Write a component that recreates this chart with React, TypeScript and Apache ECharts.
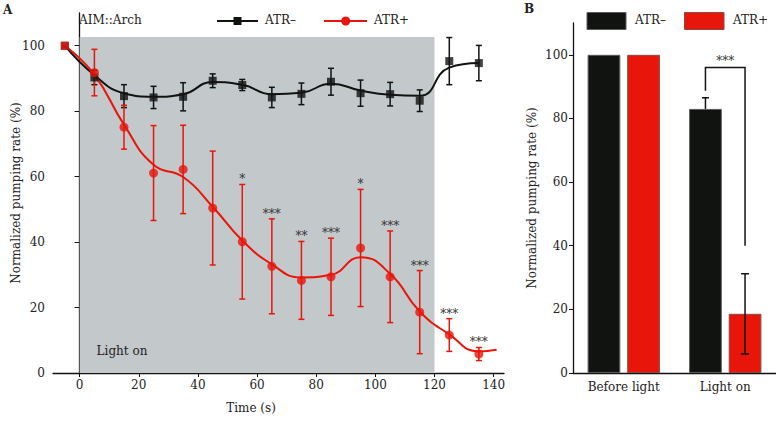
import React, { useEffect, useRef } from 'react';
import * as echarts from 'echarts';

const FONT = '"DejaVu Serif", serif';

// Panel A data
const times = [-5, 5, 15, 25, 35, 45, 55, 65, 75, 85, 95, 105, 115, 125, 135];
const atrMinus = [100, 90.3, 84.6, 84.2, 84.4, 89.3, 88.0, 84.2, 85.3, 89.0, 85.5, 85.2, 83.2, 95.3, 94.7];
const atrMinusErr = [0, 2.2, 3.5, 3.4, 4.3, 2.1, 1.7, 3.1, 3.3, 4.1, 4.0, 3.6, 3.3, 7.2, 5.4];
const atrPlus = [100, 91.8, 75.1, 61.1, 62.2, 50.4, 40.1, 32.6, 28.3, 29.4, 38.2, 29.4, 18.6, 11.6, 5.8];
const atrPlusErr = [0, 7.1, 6.7, 14.5, 13.5, 17.4, 17.5, 14.5, 11.9, 11.8, 17.9, 14.0, 12.7, 5.0, 2.0];
const significance = ['', '', '', '', '', '', '*', '***', '**', '***', '*', '***', '***', '***', '***'];

// Fitted (smoothed) curves
const fitMinusTimes = [-5, 5, 15, 25, 35, 45, 55, 65, 75, 85, 95, 105, 115, 125, 135];
const fitMinus = [100, 91, 85.5, 84.4, 85.2, 88.9, 88.1, 85.2, 85.6, 88.4, 86.3, 85.0, 84.7, 93.3, 94.7];
const fitPlusTimes = [-5, 5, 15, 25, 35, 45, 55, 65, 75, 85, 95, 105, 115, 125, 135, 141];
const fitPlus = [100, 91.1, 75.9, 63.6, 59.9, 50.8, 40.5, 33.2, 29.2, 30.0, 35.4, 30.3, 18.8, 11.8, 6.6, 7.1];

const lightPeriod = [0, 120];
const lightTop = 102.7;

const xTicksA = [0, 20, 40, 60, 80, 100, 120, 140];
const yTicks = [0, 20, 40, 60, 80, 100];

// Panel B data
const categories = ['Before light', 'Light on'];
const barMinus = [100, 83.0];
const barPlus = [100, 18.6];
const barMinusErr = [0, 3.5];
const barPlusErr = [0, 12.6];
const bracket = { left: 88.7, top: 96, right: 40, label: '***' };

const BLACK = '#111311';
const RED = '#e8150b';
const BAR_W = 32.7;
const BAR_GAP_PX = 6.9;

export default function App() {
  const ref = useRef<HTMLDivElement>(null);

  useEffect(() => {
    const chart = echarts.init(ref.current!, null, { renderer: 'svg' });

    const errRender = (color: string) => (params: any, api: any) => {
      const x = api.value(0);
      const y = api.value(1);
      const e = api.value(2);
      const lo = api.coord([x, y - e]);
      const hi = api.coord([x, y + e]);
      const cw = 3;
      const st = { stroke: color, lineWidth: 1.5 };
      return {
        type: 'group',
        children: [
          { type: 'line', shape: { x1: lo[0], y1: lo[1], x2: hi[0], y2: hi[1] }, style: st },
          { type: 'line', shape: { x1: lo[0] - cw, y1: lo[1], x2: lo[0] + cw, y2: lo[1] }, style: st },
          { type: 'line', shape: { x1: hi[0] - cw, y1: hi[1], x2: hi[0] + cw, y2: hi[1] }, style: st },
        ],
      };
    };

    const starRender = (params: any, api: any) => {
      const x = api.value(0);
      const top = api.value(1) + api.value(2);
      const p = api.coord([x, top]);
      const txt = significance[api.value(3)];
      return {
        type: 'text',
        x: p[0],
        y: p[1] + 1,
        style: {
          text: txt,
          fill: '#333',
          font: `12px ${FONT}`,
          align: 'center',
          verticalAlign: 'bottom',
        },
      };
    };

    const minusErrData = times
      .map((t, i) => [t, atrMinus[i], atrMinusErr[i]])
      .filter((d) => d[2] > 0);
    const plusErrData = times
      .map((t, i) => [t, atrPlus[i], atrPlusErr[i]])
      .filter((d) => d[2] > 0);
    const starData = times
      .map((t, i) => [t, atrPlus[i], atrPlusErr[i], i])
      .filter((d) => significance[d[3]] !== '');

    const off = (BAR_W + BAR_GAP_PX) / 2;

    const barErrRender = (params: any, api: any) => {
      const idx = api.value(0);
      const v = api.value(1);
      const up = api.value(2);
      const down = api.value(3);
      const side = api.value(4);
      const c = api.coord([idx, v]);
      const hi = api.coord([idx, v + up]);
      const lo = api.coord([idx, v - down]);
      const x = c[0] + side * off;
      const cw = side < 0 ? 3.5 : 4;
      const st = { stroke: BLACK, lineWidth: 1.5 };
      const children: any[] = [
        { type: 'line', shape: { x1: x, y1: lo[1], x2: x, y2: hi[1] }, style: st },
        { type: 'line', shape: { x1: x - cw, y1: hi[1], x2: x + cw, y2: hi[1] }, style: st },
      ];
      if (down > 0) {
        children.push({ type: 'line', shape: { x1: x - cw, y1: lo[1], x2: x + cw, y2: lo[1] }, style: st });
      }
      return { type: 'group', children };
    };

    const bracketRender = (params: any, api: any) => {
      const idx = api.value(0);
      const pL = api.coord([idx, api.value(1)]);
      const pT = api.coord([idx, api.value(2)]);
      const pR = api.coord([idx, api.value(3)]);
      const xl = pL[0] - off;
      const xr = pL[0] + off;
      return {
        type: 'group',
        children: [
          {
            type: 'polyline',
            shape: { points: [[xl, pL[1]], [xl, pT[1]], [xr, pT[1]], [xr, pR[1]]] },
            style: { stroke: BLACK, lineWidth: 1.5, fill: 'none' },
          },
          {
            type: 'text',
            x: (xl + xr) / 2,
            y: pT[1] - 1,
            style: { text: bracket.label, fill: '#333', font: `12px ${FONT}`, align: 'center', verticalAlign: 'bottom' },
          },
        ],
      };
    };

    const axisLineStyle = { color: '#111', width: 1.3 };
    const labelStyle = { fontFamily: FONT, fontSize: 12, color: '#222' };

    const gtext = (text: string, x: number, y: number, opts: any = {}) => ({
      type: 'text',
      x,
      y,
      z: 100,
      style: {
        text,
        fill: opts.fill || '#222',
        font: opts.font || `12px ${FONT}`,
        align: opts.align || 'left',
        verticalAlign: 'middle',
        textAlign: opts.align || 'left',
        textVerticalAlign: 'middle',
      },
    });

    const option: any = {
      animation: false,
      textStyle: { fontFamily: FONT },
      grid: [
        { left: 53, top: 13, width: 451, height: 360, containLabel: false, outerBoundsMode: 'none' },
        { left: 573, top: 23, width: 203, height: 350, containLabel: false, outerBoundsMode: 'none' },
      ],
      xAxis: [
        {
          type: 'value',
          gridIndex: 0,
          min: -9,
          max: 143.5,
          axisLine: { show: true, lineStyle: axisLineStyle },
          axisTick: { show: true, length: 4, customValues: xTicksA, lineStyle: { color: '#111' } },
          axisLabel: { customValues: xTicksA, margin: 6, ...labelStyle },
          splitLine: { show: false },
        },
        {
          type: 'category',
          gridIndex: 1,
          data: categories,
          axisLine: { show: true, lineStyle: axisLineStyle },
          axisTick: { show: false },
          axisLabel: { margin: 8, ...labelStyle },
        },
      ],
      yAxis: [
        {
          type: 'value',
          gridIndex: 0,
          min: 0,
          max: 110,
          name: 'Normalized pumping rate (%)',
          nameLocation: 'middle',
          nameGap: 31,
          nameMoveOverlap: false,
          nameTextStyle: { ...labelStyle },
          axisLine: { show: true, lineStyle: axisLineStyle },
          axisTick: { show: true, length: 5, customValues: yTicks, lineStyle: { color: '#111' } },
          axisLabel: { customValues: yTicks, margin: 8, ...labelStyle },
          splitLine: { show: false },
        },
        {
          type: 'value',
          gridIndex: 1,
          min: 0,
          max: 110,
          name: 'Normalized pumping rate (%)',
          nameLocation: 'middle',
          nameGap: 35,
          nameMoveOverlap: false,
          nameTextStyle: { ...labelStyle },
          axisLine: { show: true, lineStyle: axisLineStyle },
          axisTick: { show: true, length: 4, customValues: yTicks, lineStyle: { color: '#111' } },
          axisLabel: { customValues: yTicks, margin: 5, ...labelStyle },
          splitLine: { show: false },
        },
      ],
      series: [
        {
          type: 'line',
          name: 'light',
          xAxisIndex: 0,
          yAxisIndex: 0,
          data: [],
          z: 1,
          markArea: {
            silent: true,
            itemStyle: { color: '#c3c8cb' },
            label: {
              show: true,
              position: 'insideBottomLeft',
              formatter: 'Light on',
              offset: [12, -11],
              fontFamily: FONT,
              fontSize: 12,
              color: '#222',
            },
            data: [[{ xAxis: lightPeriod[0], yAxis: 0 }, { xAxis: lightPeriod[1], yAxis: lightTop }]],
          },
        },
        {
          type: 'line',
          name: 'ATR– fit',
          xAxisIndex: 0,
          yAxisIndex: 0,
          data: fitMinusTimes.map((t, i) => [t, fitMinus[i]]),
          smooth: 0.5,
          showSymbol: false,
          lineStyle: { color: BLACK, width: 2 },
          z: 2,
        },
        {
          type: 'line',
          name: 'ATR+ fit',
          xAxisIndex: 0,
          yAxisIndex: 0,
          data: fitPlusTimes.map((t, i) => [t, fitPlus[i]]),
          smooth: 0.5,
          showSymbol: false,
          lineStyle: { color: RED, width: 2 },
          z: 2,
        },
        {
          type: 'custom',
          xAxisIndex: 0,
          yAxisIndex: 0,
          data: minusErrData,
          renderItem: errRender(BLACK),
          z: 3,
        },
        {
          type: 'custom',
          xAxisIndex: 0,
          yAxisIndex: 0,
          data: plusErrData,
          renderItem: errRender(RED),
          z: 3,
        },
        {
          type: 'scatter',
          name: 'ATR–',
          xAxisIndex: 0,
          yAxisIndex: 0,
          data: times.map((t, i) => [t, atrMinus[i]]),
          symbol: 'rect',
          symbolSize: 8,
          itemStyle: { color: BLACK },
          z: 4,
        },
        {
          type: 'scatter',
          name: 'ATR+',
          xAxisIndex: 0,
          yAxisIndex: 0,
          data: times.map((t, i) =>
            i === 0 ? { value: [t, atrPlus[i]], symbol: 'rect', symbolSize: 8 } : [t, atrPlus[i]]
          ),
          symbol: 'circle',
          symbolSize: 9,
          itemStyle: { color: RED },
          z: 5,
        },
        {
          type: 'custom',
          xAxisIndex: 0,
          yAxisIndex: 0,
          data: starData,
          renderItem: starRender,
          z: 6,
        },
        // Panel B
        {
          type: 'bar',
          name: 'ATR–',
          xAxisIndex: 1,
          yAxisIndex: 1,
          data: barMinus,
          barWidth: BAR_W,
          barGap: `${(BAR_GAP_PX / BAR_W) * 100}%`,
          itemStyle: { color: BLACK, borderColor: '#5a5a5a', borderWidth: 1 },
        },
        {
          type: 'bar',
          name: 'ATR+',
          xAxisIndex: 1,
          yAxisIndex: 1,
          data: barPlus,
          barWidth: BAR_W,
          itemStyle: { color: RED, borderColor: '#8a4a44', borderWidth: 1 },
        },
        {
          type: 'custom',
          xAxisIndex: 1,
          yAxisIndex: 1,
          data: [
            [1, barMinus[1], barMinusErr[1], 0, -1],
            [1, barPlus[1], barPlusErr[1], barPlusErr[1], 1],
          ],
          renderItem: barErrRender,
          z: 5,
        },
        {
          type: 'custom',
          xAxisIndex: 1,
          yAxisIndex: 1,
          data: [[1, bracket.left, bracket.top, bracket.right]],
          renderItem: bracketRender,
          z: 5,
        },
      ],
      graphic: [
        gtext('A', 3, 10, { font: `bold 12px ${FONT}` }),
        gtext('B', 524, 9, { font: `bold 12px ${FONT}` }),
        gtext('AIM::Arch', 79, 20),
        { type: 'line', z: 100, shape: { x1: 217, y1: 21, x2: 258, y2: 21 }, style: { stroke: BLACK, lineWidth: 2 } },
        { type: 'rect', z: 100, shape: { x: 233.5, y: 17, width: 8, height: 8 }, style: { fill: BLACK } },
        gtext('ATR–', 265, 20),
        { type: 'line', z: 100, shape: { x1: 324, y1: 21, x2: 367, y2: 21 }, style: { stroke: RED, lineWidth: 2 } },
        { type: 'circle', z: 100, shape: { cx: 345.7, cy: 21, r: 4.5 }, style: { fill: RED } },
        gtext('ATR+', 374, 20),
        gtext('Time (s)', 251, 408, { align: 'center' }),
        {
          type: 'rect',
          z: 100,
          shape: { x: 587, y: 12.5, width: 39, height: 17 },
          style: { fill: BLACK, stroke: '#5a5a5a', lineWidth: 1 },
        },
        gtext('ATR–', 635, 20),
        {
          type: 'rect',
          z: 100,
          shape: { x: 684.5, y: 12.5, width: 39.5, height: 17 },
          style: { fill: RED, stroke: '#8a4a44', lineWidth: 1 },
        },
        gtext('ATR+', 733, 20),
      ],
    };

    chart.setOption(option);
    return () => chart.dispose();
  }, []);

  return (
    <div
      ref={ref}
      style={{ position: 'fixed', left: 0, top: 0, width: 776, height: 447, background: '#fff' }}
    />
  );
}
